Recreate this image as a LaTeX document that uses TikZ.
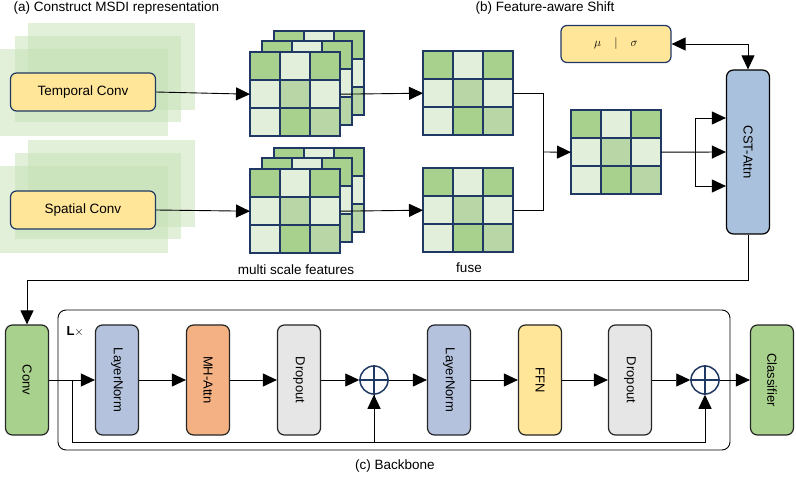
\documentclass[tikz,border=0pt]{standalone}
\usepackage{fontspec}
\setmainfont{Liberation Sans}
\usetikzlibrary{arrows.meta,positioning}
\definecolor{gd}{HTML}{A9D18E}
\definecolor{gm}{HTML}{B9D7A6}
\definecolor{gl}{HTML}{E2EFDA}
\definecolor{gridb}{HTML}{1F3864}
\definecolor{bgg}{HTML}{C5E0B4}
\definecolor{yel}{HTML}{FFE699}
\definecolor{blu}{HTML}{A9C1DC}
\definecolor{lnb}{HTML}{B4C2DE}
\definecolor{org}{HTML}{F4B183}
\definecolor{gry}{HTML}{E7E6E6}
\definecolor{conv}{HTML}{A9D18E}

\tikzset{
  arr/.style={-{Triangle[length=14pt,width=13pt]}, line width=0.9pt},
  biarr/.style={{Triangle[length=14pt,width=13pt]}-{Triangle[length=14pt,width=13pt]}, line width=0.9pt},
  inbox/.style={draw=gridb, line width=1.2pt, fill=yel, rounded corners=6pt, minimum width=145pt, minimum height=38pt, font=\fontsize{13.5}{15}\selectfont},
  blk/.style={draw=black!85, line width=1.2pt, rounded corners=7pt, minimum width=43pt, minimum height=110pt, inner sep=0pt, font=\fontsize{13}{15}\selectfont},
  plus/.style={circle, draw=gridb, line width=1.5pt, minimum size=28pt, inner sep=0pt},
  lbl/.style={font=\fontsize{13.5}{15}\selectfont}
}

% 3x3 grid of feature cells: name, left, top
\newcommand{\cellgrid}[3]{%
  \node[minimum width=90pt, minimum height=84pt, inner sep=0pt, anchor=north west] (#1) at (#2,#3) {};
  \foreach \ca/\cb/\cc [count=\r from 0] in {gd/gl/gd, gl/gm/gl, gl/gd/gm}{
    \filldraw[fill=\ca, draw=gridb, line width=1.3pt] (#2,{#3+\r*28}) rectangle ++(30,28);
    \filldraw[fill=\cb, draw=gridb, line width=1.3pt] ({#2+30},{#3+\r*28}) rectangle ++(30,28);
    \filldraw[fill=\cc, draw=gridb, line width=1.3pt] ({#2+60},{#3+\r*28}) rectangle ++(30,28);
  }%
}

\begin{document}
\begin{tikzpicture}[x=1pt, y=-1pt]
  \useasboundingbox (0,0) rectangle (796,481);

  % (a) input branches
  \node[lbl, anchor=west] (ta) at (10,8) {(a) Construct MSDI representation};
  \foreach \dy in {0,117}{
    \fill[bgg, fill opacity=0.5] (28,{23+\dy}) rectangle (195,{110+\dy});
    \fill[bgg, fill opacity=0.5] (15,{36+\dy}) rectangle (181,{122+\dy});
    \fill[bgg, fill opacity=0.5] (0,{49+\dy}) rectangle (168,{136+\dy});
  }
  \node[inbox] (tconv) at (83,92) {Temporal Conv};
  \node[inbox] (sconv) at (83,210) {Spatial Conv};

  % multi scale stacks
  \cellgrid{tb2}{274}{31}
  \cellgrid{tb1}{262}{41}
  \cellgrid{tstack}{250}{52}
  \cellgrid{sb2}{274}{148}
  \cellgrid{sb1}{262}{158}
  \cellgrid{sstack}{250}{169}
  \node[lbl] (msf) at (296,270) {multi scale features};

  % fuse
  \cellgrid{tfuse}{423}{51}
  \cellgrid{sfuse}{423}{168}
  \cellgrid{fused}{571}{110}
  \node[lbl] (fuselbl) at (469,268) {fuse};

  \draw[arr] (tconv.east) -- (tstack.west);
  \draw[arr] (sconv.east) -- (sstack.west);
  \draw[arr] (tstack.east) -- (tfuse.west);
  \draw[arr] (sstack.east) -- (sfuse.west);
  \coordinate (j) at (543,152);
  \draw[line width=0.9pt] (tfuse.east) -| (j);
  \draw[line width=0.9pt] (sfuse.east) -| (j);
  \draw[arr] (j) -- (fused.west);

  % (b) feature-aware shift
  \node[lbl] (tb) at (545,8) {(b) Feature-aware Shift};
  \node[draw=gridb, line width=1.2pt, fill=yel, rounded corners=6pt, minimum width=110pt, minimum height=37pt, font=\fontsize{13}{15}\selectfont] (musig) at (616,44) {$\mu$\quad$|$\quad$\sigma$};
  \node[draw=black, line width=1.2pt, fill=blu, rounded corners=7pt, minimum width=43pt, minimum height=164pt, inner sep=0pt, font=\fontsize{13}{15}\selectfont] (cst) at (748,152) {\rotatebox{-90}{CST-Attn}};
  \draw[biarr] (musig.east) -| (cst.north);
  \coordinate (k) at (695,152);
  \draw[arr] (fused.east) -- (cst.west);
  \draw[arr] (k) |- ([yshift=34pt]cst.west);
  \draw[arr] (k) |- ([yshift=-34pt]cst.west);

  % (c) backbone
  \node[blk, fill=conv] (conv) at (27,380) {\rotatebox{-90}{Conv}};
  \draw[arr] (cst.south) |- (conv.north |- 0,280) -- (conv.north);
  \draw[line width=0.9pt, rounded corners=8pt] (58,310) rectangle (730,450);
  \node[font=\fontsize{13}{15}\selectfont\bfseries, anchor=west] (lx) at (63,332) {L$\times$};
  \node[blk, fill=lnb] (ln1) at (117,380) {\rotatebox{-90}{LayerNorm}};
  \node[blk, fill=org] (mha) at (208,380) {\rotatebox{-90}{MH-Attn}};
  \node[blk, fill=gry] (dp1) at (299,380) {\rotatebox{-90}{Dropout}};
  \node[plus] (p1) at (374,380) {};
  \node[blk, fill=lnb] (ln2) at (449,380) {\rotatebox{-90}{LayerNorm}};
  \node[blk, fill=yel] (ffn) at (540,380) {\rotatebox{-90}{FFN}};
  \node[blk, fill=gry] (dp2) at (630,380) {\rotatebox{-90}{Dropout}};
  \node[plus] (p2) at (705,380) {};
  \node[blk, fill=conv] (cls) at (772,380) {\rotatebox{-90}{Classifier}};
  \foreach \p in {p1,p2}{
    \draw[gridb, line width=1.5pt] (\p.north) -- (\p.south);
    \draw[gridb, line width=1.5pt] (\p.west) -- (\p.east);
  }
  \draw[arr] (conv.east) -- (ln1.west);
  \draw[arr] (ln1.east) -- (mha.west);
  \draw[arr] (mha.east) -- (dp1.west);
  \draw[arr] (dp1.east) -- (p1.west);
  \draw[arr] (p1.east) -- (ln2.west);
  \draw[arr] (ln2.east) -- (ffn.west);
  \draw[arr] (ffn.east) -- (dp2.west);
  \draw[arr] (dp2.east) -- (p2.west);
  \draw[arr] (p2.east) -- (cls.west);
  \coordinate (r0) at (72,380);
  \draw[arr] (r0) -- ++(0,62) -| (p1.south);
  \draw[arr] (p1.south) -- ++(0,48) -| (p2.south);
  \node[lbl] (tc) at (395,466) {(c) Backbone};
\end{tikzpicture}
\end{document}
